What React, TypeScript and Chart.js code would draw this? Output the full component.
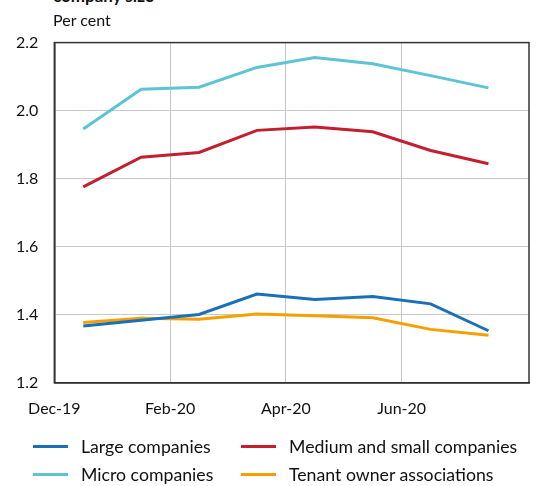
import React, { useEffect, useRef } from "react";
import { Chart, registerables } from "chart.js";

Chart.register(...registerables);

const months = ["Dec-19", "Jan-20", "Feb-20", "Mar-20", "Apr-20", "May-20", "Jun-20", "Jul-20"];
const tickMonths = [0, 2, 4, 6];

const large = [1.367, 1.384, 1.401, 1.461, 1.445, 1.454, 1.432, 1.353];
const medium = [1.776, 1.863, 1.877, 1.942, 1.952, 1.938, 1.883, 1.844];
const micro = [1.946, 2.063, 2.069, 2.127, 2.156, 2.138, 2.103, 2.067];
const tenant = [1.377, 1.39, 1.387, 1.402, 1.397, 1.391, 1.357, 1.34];

const seriesNames = ["Large companies", "Medium and small companies", "Micro companies", "Tenant owner associations"];
const seriesColors = ["#1a70b8", "#c2202f", "#5cc4d4", "#f5a000"];
const seriesValues = [large, medium, micro, tenant];

const FONT = "Lato, 'Noto Sans', sans-serif";

const frame = {
  id: "frame",
  afterDraw(chart: any) {
    const { ctx, chartArea: a } = chart;
    ctx.save();
    ctx.strokeStyle = "#333333";
    ctx.lineWidth = 1.5;
    ctx.strokeRect(a.left, a.top, a.right - a.left, a.bottom - a.top);
    ctx.restore();
  },
};

export default function App() {
  const ref = useRef<HTMLCanvasElement>(null);

  useEffect(() => {
    if (!ref.current) return;
    const toPoints = (vals: number[]) => vals.map((v, i) => ({ x: i + 0.5, y: v }));
    const chart = new Chart(ref.current, {
      type: "line",
      data: {
        datasets: seriesValues.map((vals, k) => ({
          label: seriesNames[k],
          data: toPoints(vals),
          borderColor: seriesColors[k],
          backgroundColor: seriesColors[k],
          borderWidth: 3,
          pointRadius: 0,
          tension: 0,
        })),
      },
      options: {
        animation: false,
        responsive: false,
        maintainAspectRatio: false,
        layout: { padding: { top: 0, right: 7, bottom: 0, left: 2 } },
        plugins: { legend: { display: false }, tooltip: { enabled: false } },
        scales: {
          x: {
            type: "linear",
            min: 0,
            max: 8.2,
            afterBuildTicks: (scale: any) => {
              scale.ticks = tickMonths.map((v) => ({ value: v }));
            },
            ticks: {
              padding: 16,
              color: "#111",
              font: { family: FONT, size: 16 },
              maxRotation: 0,
              callback: (v: any) => months[Number(v)] ?? "",
            },
            grid: { color: "#c8c8c8", lineWidth: 1, drawTicks: false },
            border: { display: true, color: "#111", width: 1.5 },
          },
          y: {
            min: 1.2,
            max: 2.2,
            ticks: {
              stepSize: 0.2,
              padding: 16,
              color: "#111",
              font: { family: FONT, size: 16 },
              callback: (v: any) => Number(v).toFixed(1),
            },
            grid: { color: "#c8c8c8", lineWidth: 1, drawTicks: false },
            border: { display: true, color: "#111", width: 1.5 },
          },
        },
      },
      plugins: [frame],
    });
    return () => chart.destroy();
  }, []);

  return (
    <div style={{ position: "fixed", left: 0, top: 0, width: 536, height: 486, background: "#fff", overflow: "hidden", fontFamily: FONT, color: "#111" }}>
      <canvas ref={ref} width={538} height={417} style={{ position: "absolute", left: -2, top: 17, width: 538, height: 417 }} />
      <div style={{ position: "absolute", left: 53, top: -14, fontSize: 17, fontWeight: 700, lineHeight: "20px", whiteSpace: "nowrap" }}>
        company size
      </div>
      <div style={{ position: "absolute", left: 53, top: 10, fontSize: 16, lineHeight: 1.2, whiteSpace: "nowrap" }}>Per cent</div>
      <div style={{ position: "absolute", left: 33, top: 432, display: "grid", gridTemplateColumns: "208px 300px", gridAutoRows: "28px", fontSize: 17.7 }}>
        {[0, 1, 2, 3].map((k) => (
          <div key={k} style={{ display: "flex", alignItems: "center", whiteSpace: "nowrap" }}>
            <span style={{ display: "inline-block", flexShrink: 0, width: 35, height: 3, background: seriesColors[k], marginRight: 13 }} />
            <span>{seriesNames[k]}</span>
          </div>
        ))}
      </div>
    </div>
  );
}
